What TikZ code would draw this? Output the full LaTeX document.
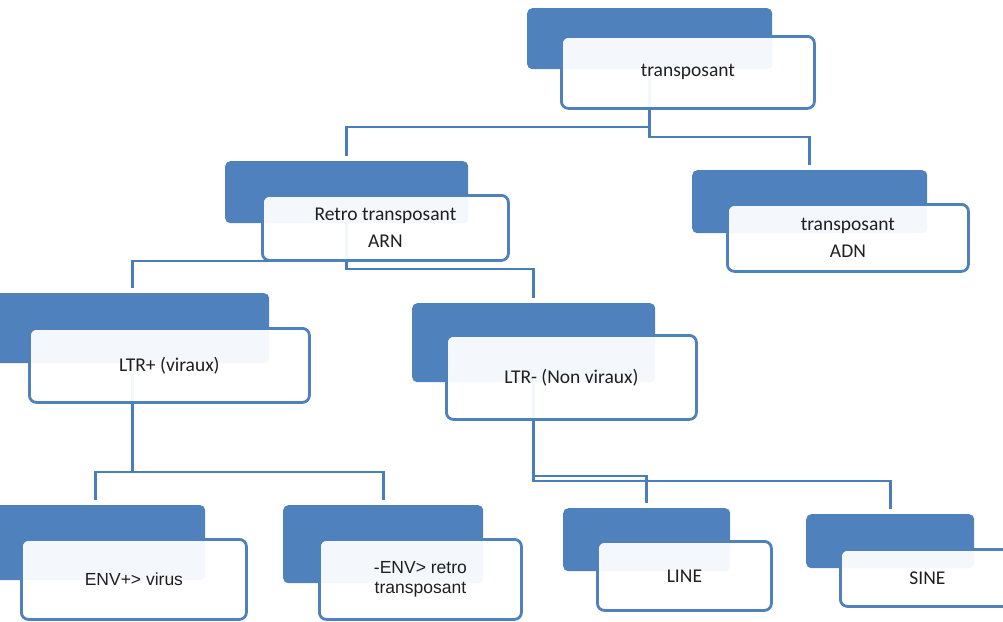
\documentclass[tikz,border=0pt]{standalone}
\usepackage{fontspec}
\setmainfont{Carlito}
\newfontfamily\arialfont{Liberation Sans}
\pgfdeclarelayer{background}
\pgfsetlayers{background,main}
\definecolor{boxblue}{HTML}{4F81BD}
\definecolor{lineblue}{HTML}{4A7EBB}
\definecolor{txt}{HTML}{1F1F1F}
\tikzset{
  backbox/.style={fill=boxblue, draw=none, rounded corners=5pt, inner sep=0pt, anchor=north west},
  frontbox/.style={draw=boxblue, line width=2.8pt, fill=white, fill opacity=0.94, text opacity=1,
    rounded corners=7pt, text=txt, align=center, inner sep=0pt, anchor=north west,
    font=\fontsize{19.5}{27}\selectfont},
  arialtext/.style={font=\arialfont\fontsize{17.5}{20}\selectfont},
  conn/.style={draw=lineblue, line width=2.6pt, shorten >=5pt},
}
\begin{document}
\begin{tikzpicture}[x=1pt, y=-1pt]
\useasboundingbox (0,0) rectangle (1003,621);
\clip (0,0) rectangle (1003,621);

% root
\node[backbox, minimum width=245pt, minimum height=61pt] (b1) at (527,8) {};
\node[frontbox, minimum width=253pt, minimum height=72pt] (f1) at (560,35) {transposant};

% second level
\node[backbox, minimum width=243pt, minimum height=62pt] (b2) at (225,161) {};
\node[frontbox, minimum width=246pt, minimum height=65pt] (f2) at (261,194) {Retro transposant\\ARN};
\node[backbox, minimum width=235pt, minimum height=63pt] (b3) at (692,170) {};
\node[frontbox, minimum width=241pt, minimum height=67pt] (f3) at (726,203) {transposant\\ADN};

% third level
\node[backbox, minimum width=274pt, minimum height=70pt] (b4) at (-5,293) {};
\node[frontbox, minimum width=280pt, minimum height=74pt] (f4) at (28,327) {LTR+ (viraux)};
\node[backbox, minimum width=243pt, minimum height=79pt] (b5) at (412,303) {};
\node[frontbox, minimum width=250pt, minimum height=84pt] (f5) at (445,334) {LTR- (Non viraux)};

% leaves
\node[backbox, minimum width=220pt, minimum height=75pt] (b6) at (-15,505) {};
\node[frontbox, arialtext, minimum width=225pt, minimum height=80pt] (f6) at (20,538) {ENV+> virus};
\node[backbox, minimum width=200pt, minimum height=78pt] (b7) at (283,505) {};
\node[frontbox, arialtext, minimum width=202pt, minimum height=80pt] (f7) at (318,538) {-ENV> retro\\transposant};
\node[backbox, minimum width=167pt, minimum height=63pt] (b8) at (563,508) {};
\node[frontbox, minimum width=174pt, minimum height=69pt] (f8) at (596,540) {LINE};
\node[backbox, minimum width=168pt, minimum height=54pt] (b9) at (806,514) {};
\node[frontbox, minimum width=174pt, minimum height=57pt] (f9) at (839,548) {SINE};

% bus levels of the elbow connectors
\coordinate (h1) at (0,127);
\coordinate (h2) at (0,137);
\coordinate (h3) at (0,261);
\coordinate (h4) at (0,269);
\coordinate (h5) at (0,472);
\coordinate (h6) at (0,476);
\coordinate (h7) at (0,481);

\begin{pgfonlayer}{background}
\draw[conn] (b1.south) -- (b1.south |- h1) -| (b2.north);
\draw[conn] (b1.south) -- (b1.south |- h2) -| (b3.north);
\draw[conn] (b2.south) -- (b2.south |- h3) -| (b4.north);
\draw[conn] (b2.south) -- (b2.south |- h4) -| (b5.north);
\draw[conn] (b4.south) -- (b4.south |- h5) -| (b6.north);
\draw[conn] (b4.south) -- (b4.south |- h5) -| (b7.north);
\draw[conn] (b5.south) -- (b5.south |- h6) -| (b8.north);
\draw[conn] (b5.south) -- (b5.south |- h7) -| (b9.north);
\end{pgfonlayer}
\end{tikzpicture}
\end{document}
